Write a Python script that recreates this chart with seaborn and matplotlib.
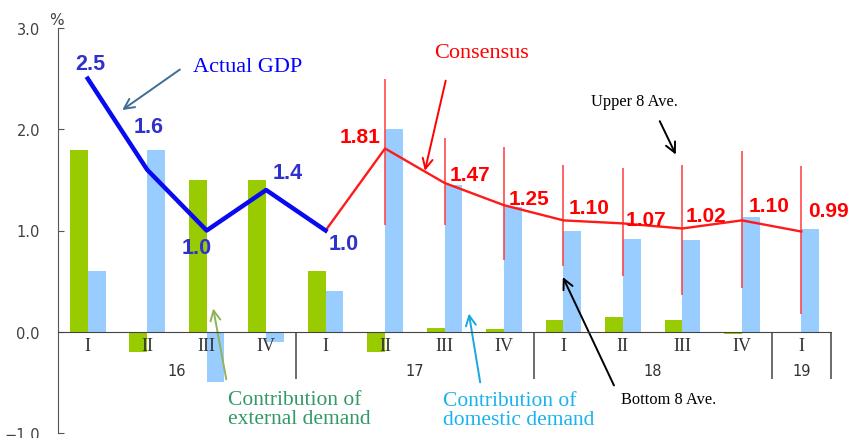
import numpy as np
import pandas as pd
import matplotlib
matplotlib.use("Agg")
import matplotlib.pyplot as plt
import seaborn as sns

# quarters 2016 Q1 .. 2019 Q1
quarter_labels = ["I", "II", "III", "IV", "I", "II", "III", "IV", "I", "II", "III", "IV", "I"]
quarter_keys = ["16Q1", "16Q2", "16Q3", "16Q4", "17Q1", "17Q2", "17Q3", "17Q4",
                "18Q1", "18Q2", "18Q3", "18Q4", "19Q1"]
years = ["16", "17", "18", "19"]
year_centers = [1.5, 5.5, 9.5, 12.0]
year_bounds = [3.5, 7.5, 11.5, 12.5]

external = [1.8, -0.2, 1.5, 1.5, 0.6, -0.2, 0.04, 0.03, 0.12, 0.15, 0.12, -0.02, 0.0]
domestic = [0.6, 1.8, -0.5, -0.1, 0.4, 2.0, 1.45, 1.23, 1.0, 0.92, 0.91, 1.13, 1.01]

actual_gdp = [2.5, 1.6, 1.0, 1.4, 1.0]            # 16Q1 .. 17Q1
consensus = [1.0, 1.81, 1.47, 1.25, 1.10, 1.07, 1.02, 1.10, 0.99]   # 17Q1 .. 19Q1
upper8 = [2.50, 1.91, 1.82, 1.65, 1.62, 1.65, 1.79, 1.64]           # 17Q2 .. 19Q1
bottom8 = [1.05, 1.05, 0.71, 0.65, 0.55, 0.36, 0.43, 0.18]

df = pd.DataFrame({
    "quarter": quarter_keys * 2,
    "value": external + domestic,
    "kind": ["external"] * 13 + ["domestic"] * 13,
})

fig = plt.figure(figsize=(8.51, 4.39), dpi=100)
ax = fig.add_axes([58 / 851, 5 / 439, 773 / 851, 405 / 439])

sns.barplot(data=df, x="quarter", y="value", hue="kind", order=quarter_keys,
            palette={"external": "#99cc00", "domestic": "#99ccff"},
            width=0.6, gap=0, saturation=1, legend=False, ax=ax, zorder=1)

x_gdp = np.arange(len(actual_gdp))
x_cons = np.arange(4, 4 + len(consensus))
x_rng = np.arange(5, 13)

ax.vlines(x_rng, bottom8, upper8, color="#ff3b3b", lw=1.1, zorder=3)
ax.plot(x_cons, consensus, color="#ff1a1a", lw=1.7, zorder=4)
ax.plot(x_gdp, actual_gdp, color="#0a0af0", lw=3.2, zorder=5)

# value labels
gdp_lab_pos = [(0.05, 2.65), (1.03, 2.03), (1.83, 0.83), (3.37, 1.57), (4.31, 0.87)]
for v, (tx, ty) in zip(actual_gdp, gdp_lab_pos):
    ax.text(tx, ty, f"{v:.1f}", color="#3030cc", fontsize=15.5, fontweight="bold",
            family="Liberation Sans", ha="center", va="center", zorder=6)

cons_lab_pos = [(4.58, 1.93), (6.42, 1.55), (7.42, 1.32), (8.43, 1.23), (9.38, 1.11),
                (10.39, 1.15), (11.45, 1.25), (12.46, 1.20)]
for v, (tx, ty) in zip(consensus[1:], cons_lab_pos):
    ax.text(tx, ty, f"{v:.2f}", color="#ff0000", fontsize=15, fontweight="bold",
            family="Liberation Sans", ha="center", va="center", zorder=6, clip_on=False)

# annotations
serif = "Liberation Serif"
arr = dict(arrowstyle="->", mutation_scale=18, lw=1.4, shrinkA=0, shrinkB=0)

ax.annotate("", xy=(0.58, 2.19), xytext=(1.55, 2.59),
            arrowprops=dict(arr, color="#3c6e96"))
ax.text(1.77, 2.62, "Actual GDP", color="#0000ff", fontsize=16, family=serif,
        va="center", ha="left")

ax.annotate("", xy=(5.67, 1.59), xytext=(6.02, 2.48),
            arrowprops=dict(arr, color="#ff0000"))
ax.text(6.63, 2.76, "Consensus", color="#ff0000", fontsize=16, family=serif,
        va="center", ha="center")

ax.annotate("", xy=(9.89, 1.75), xytext=(9.62, 2.08),
            arrowprops=dict(arr, color="black"))
ax.text(9.2, 2.28, "Upper 8 Ave.", color="black", fontsize=11.8, family=serif,
        va="center", ha="center")

ax.annotate("", xy=(7.99, 0.54), xytext=(8.85, -0.53),
            arrowprops=dict(arr, color="black"))
ax.text(9.77, -0.66, "Bottom 8 Ave.", color="black", fontsize=11.8, family=serif,
        va="center", ha="center")

ax.annotate("", xy=(2.11, 0.23), xytext=(2.33, -0.47),
            arrowprops=dict(arr, color="#8fb35a"))
ax.text(2.36, -0.76, "Contribution of\nexternal demand", color="#339966", fontsize=15.5,
        family=serif, va="center", ha="left", linespacing=1.0)

ax.annotate("", xy=(6.41, 0.18), xytext=(6.6, -0.5),
            arrowprops=dict(arr, color="#1aa6e0"))
ax.text(5.97, -0.77, "Contribution of\ndomestic demand", color="#19b3ee", fontsize=15.5,
        family=serif, va="center", ha="left", linespacing=1.0)

# axes styling
ax.set_xlim(-0.5, 12.5)
ax.set_ylim(-1.0, 3.0)
ax.set_yticks([-1.0, 0.0, 1.0, 2.0, 3.0])
ax.set_yticklabels(["−1.0", "0.0", "1.0", "2.0", "3.0"])
ax.tick_params(axis="y", direction="in", length=4, pad=13, labelsize=10.5,
               labelcolor="#404040", color="#555555")
ax.set_xticks([])
ax.set_xlabel("")
ax.set_ylabel("")
for s in ["top", "right"]:
    ax.spines[s].set_visible(False)
ax.spines["bottom"].set_position(("data", 0))
ax.spines["bottom"].set_color("#444444")
ax.spines["left"].set_color("#555555")
ax.spines["bottom"].set_zorder(3)

# quarter numerals drawn on top of the bars
for i, q in enumerate(quarter_labels):
    ax.text(i, -0.14, q, family=serif, fontsize=13, color="#333333",
            ha="center", va="center", zorder=7)

ax.vlines(year_bounds, -0.47, 0, color="#444444", lw=1.1, clip_on=False)
for yl, xc in zip(years, year_centers):
    ax.text(xc, -0.38, yl, fontsize=10.5, color="#333333", ha="center", va="center")

ax.text(-0.52, 3.08, "%", fontsize=11, color="#404040", ha="center", va="center",
        clip_on=False)

fig.savefig("out.png", dpi=100)
